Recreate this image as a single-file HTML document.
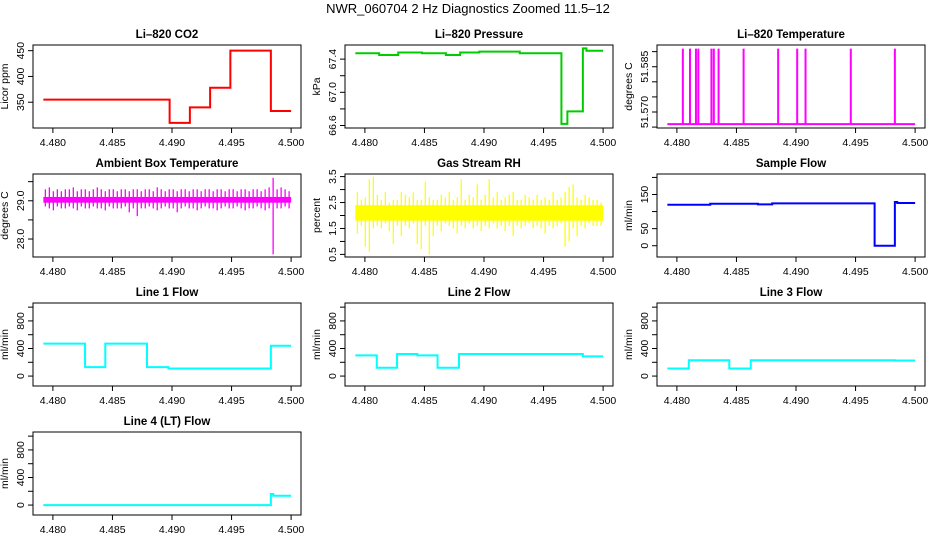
<!DOCTYPE html>
<html><head><meta charset="utf-8"><style>
html,body{margin:0;padding:0;background:#fff;}
svg{display:block;font-family:"Liberation Sans",Arial,sans-serif;}
</style></head><body>
<svg id="fig" width="936" height="540" viewBox="0 0 936 540">
<text x="468" y="13" text-anchor="middle" font-size="13">NWR_060704  2 Hz Diagnostics Zoomed 11.5–12</text>
</svg>
<script>
// ---- data ----
const xTicks = [4.480, 4.485, 4.490, 4.495, 4.500];
const xTickLabels = ["4.480", "4.485", "4.490", "4.495", "4.500"];

const co2Times = [4.4792, 4.4898, 4.4915, 4.4932, 4.4949, 4.4983, 4.5000];
const co2Values = [355, 310, 340, 378, 450, 333, 333];

const pressTimes = [4.4792, 4.4812, 4.4828, 4.4848, 4.4868, 4.4880, 4.4896, 4.4930, 4.4965, 4.4970, 4.4983, 4.4986, 4.5000];
const pressValues = [67.47, 67.45, 67.48, 67.47, 67.45, 67.48, 67.49, 67.47, 66.62, 66.77, 67.53, 67.50, 67.50];

const tempSpikeTimes = [4.4805, 4.4811, 4.4816, 4.4818, 4.4829, 4.4831, 4.4835, 4.4856, 4.4885, 4.4901, 4.4908, 4.4946, 4.4983];
const tempBase = 51.566;
const tempSpikeTop = 51.591;

const ambLo = [28.85,28.8,28.75,28.85,28.8,28.8,28.85,28.8,28.75,28.85,28.8,28.8,28.85,28.8,28.8,28.75,28.85,28.8,28.8,28.8,28.85,28.7,28.8,28.6,28.8,28.8,28.85,28.8,28.75,28.8,28.85,28.8,28.8,28.7,28.8,28.85,28.8,28.8,28.75,28.8,28.85,28.8,28.8,28.75,28.8,28.85,28.8,28.8,28.85,28.8,28.75,28.8,28.8,28.85,28.8,28.75,28.8,27.6,28.8,28.8,28.85,28.8];
const ambHi = [29.3,29.35,29.25,29.3,29.25,29.3,29.3,29.35,29.25,29.3,29.3,29.25,29.3,29.35,29.3,29.25,29.3,29.3,29.25,29.3,29.3,29.25,29.3,29.3,29.25,29.3,29.3,29.25,29.35,29.3,29.25,29.3,29.3,29.25,29.3,29.3,29.25,29.3,29.3,29.25,29.3,29.3,29.25,29.3,29.3,29.25,29.3,29.3,29.25,29.3,29.3,29.25,29.3,29.3,29.25,29.3,29.35,29.6,29.3,29.35,29.3,29.25];

const rhLo = [1.3,1.6,0.8,0.6,1.5,1.6,1.5,1.7,1.4,0.9,1.6,1.2,1.6,1.5,1.7,0.9,0.7,1.6,0.5,1.2,1.6,1.4,1.7,1.6,1.5,1.3,1.6,1.5,1.7,1.5,1.6,1.4,1.6,1.5,1.7,1.5,1.6,1.4,1.6,1.2,1.6,1.5,1.6,1.7,1.5,1.6,1.5,1.3,1.6,1.5,1.6,1.7,0.8,1.0,1.5,1.2,1.6,1.5,1.7,1.6,1.6,1.6];
const rhHi = [2.9,2.6,2.7,3.4,3.5,2.8,2.6,2.9,2.5,2.6,2.6,2.9,2.8,2.7,2.9,2.6,2.6,3.3,2.7,2.6,2.6,2.8,2.7,2.9,2.6,2.7,3.4,2.6,2.8,2.7,3.2,2.6,2.8,3.4,2.7,2.9,2.6,2.7,2.8,2.9,2.6,2.6,2.8,2.7,2.6,2.8,2.6,2.7,2.6,2.9,2.6,2.7,2.9,3.1,3.2,2.7,2.6,2.8,2.7,2.6,2.6,2.5];

const sampleTimes = [4.4792, 4.4828, 4.4868, 4.4880, 4.4966, 4.4983, 4.4985, 4.5000];
const sampleValues = [120, 123, 121, 124, 0, 128, 125, 125];

const line1Times = [4.4792, 4.4827, 4.4844, 4.4879, 4.4897, 4.4983, 4.5000];
const line1Values = [470, 130, 470, 130, 110, 440, 440];
const line2Times = [4.4792, 4.4810, 4.4827, 4.4844, 4.4861, 4.4879, 4.4983, 4.5000];
const line2Values = [300, 120, 320, 300, 120, 320, 285, 285];
const line3Times = [4.4792, 4.4810, 4.4844, 4.4862, 4.4983, 4.5000];
const line3Values = [110, 230, 110, 230, 225, 225];
const line4Times = [4.4792, 4.4983, 4.4985, 4.5000];
const line4Values = [0, 160, 135, 135];

// ---- layout ----
const NS = "http://www.w3.org/2000/svg";
const svg = document.getElementById("fig");
const XMIN = 4.47833, XMAX = 4.50083;
function mk(tag, attrs, parent) {
  const e = document.createElementNS(NS, tag);
  for (const k in attrs) e.setAttribute(k, attrs[k]);
  (parent || svg).appendChild(e);
  return e;
}
function panel(name, title, col, row, ylab, ymin, ymax, yTicks, yLabels) {
  const L = 33 + 312 * col, R = 301 + 312 * col, T = 45 + 129 * row, B = T + 83;
  const g = mk("g", {});
  
  
  const sx = v => L + (v - XMIN) / (XMAX - XMIN) * (R - L);
  const sy = v => B - (v - ymin) / (ymax - ymin) * (B - T);
  const t = mk("text", {x: (L + R) / 2, y: T - 7, "text-anchor": "middle", "font-size": "11.5", "font-weight": "bold"}, g);
  t.textContent = title;
  
  
  const box = mk("rect", {x: L, y: T, width: R - L, height: B - T, fill: "none", stroke: "#000", "stroke-width": 1}, g);
  
  
  // x axis
  const xa = mk("g", {}, g);
  
  
  xTicks.forEach((v, i) => {
    const x = sx(v);
    mk("line", {x1: x, x2: x, y1: B, y2: B + 5, stroke: "#000"}, xa);
    const tl = mk("text", {x: x, y: B + 18, "text-anchor": "middle", "font-size": "10.5"}, xa);
    tl.textContent = xTickLabels[i];
  });
  // y axis
  const ya = mk("g", {}, g);
  
  
  mk("line", {x1: L, x2: L, y1: sy(yTicks[0]), y2: sy(yTicks[yTicks.length - 1]), stroke: "#000"}, ya);
  yTicks.forEach((v, i) => {
    const y = sy(v);
    mk("line", {x1: L - 5, x2: L, y1: y, y2: y, stroke: "#000"}, ya);
    if (yLabels[i]) {
      const tl = mk("text", {x: L - 9, y: y, "text-anchor": "middle", "font-size": "10.5", transform: `rotate(-90 ${L - 9} ${y})`}, ya);
      tl.textContent = yLabels[i];
    }
  });
  const yl = mk("text", {x: L - 25, y: (T + B) / 2, "text-anchor": "middle", "font-size": "10.5", transform: `rotate(-90 ${L - 25} ${(T + B) / 2})`}, g);
  yl.textContent = ylab;
  
  
  return {g, sx, sy};
}
function steps(p, name, times, vals, color, w) {
  let d = "";
  for (let i = 0; i < times.length; i++) {
    const x = p.sx(times[i]), y = p.sy(vals[i]);
    if (i === 0) d += `M${x},${y}`;
    else d += `H${x}V${y}`;
  }
  const e = mk("path", {d, fill: "none", stroke: color, "stroke-width": w}, p.g);
  
  
}
function band(p, name, lo, hi, color) {
  const n = lo.length, t0 = 4.4792, t1 = 4.5000;
  const gg = mk("g", {}, p.g);
  
  
  for (let i = 0; i < n; i++) {
    const xa = p.sx(t0 + (t1 - t0) * i / n), xb = p.sx(t0 + (t1 - t0) * (i + 1) / n);
    const xm = (xa + xb) / 2;
    mk("line", {x1: xm, x2: xm, y1: p.sy(lo[i]), y2: p.sy(hi[i]), stroke: color, "stroke-width": 1.3}, gg);
  }
  // dense core
  const core = name === "ambient" ? [28.95, 29.1] : [1.8, 2.4];
  mk("rect", {x: p.sx(t0), y: p.sy(core[1]), width: p.sx(t1) - p.sx(t0), height: p.sy(core[0]) - p.sy(core[1]), fill: color}, gg);
}

// CO2
let p = panel("co2", "Li–820 CO2", 0, 0, "Licor ppm", 300, 461, [350, 400, 450], ["350", "400", "450"]);
steps(p, "co2", co2Times, co2Values, "#ff0000", 2);
// Pressure
p = panel("pressure", "Li–820 Pressure", 1, 0, "kPa", 66.57, 67.57, [66.6, 66.8, 67.0, 67.2, 67.4], ["66.6", "", "67.0", "", "67.4"]);
steps(p, "pressure", pressTimes, pressValues, "#00cc00", 2);
// Temperature
p = panel("temperature", "Li–820 Temperature", 2, 0, "degrees C", 51.5647, 51.5922, [51.565, 51.570, 51.575, 51.580, 51.585, 51.590], ["", "51.570", "", "", "51.585", ""]);
{
  let d = `M${p.sx(4.4792)},${p.sy(tempBase)}H${p.sx(4.5)}`;
  tempSpikeTimes.forEach(t => { d += `M${p.sx(t)},${p.sy(tempBase)}V${p.sy(tempSpikeTop)}`; });
  const e = mk("path", {d, fill: "none", stroke: "#ff00ff", "stroke-width": 2}, p.g);
  
  
}
// Ambient
p = panel("ambient", "Ambient Box Temperature", 0, 1, "degrees C", 27.53, 29.7, [28.0, 28.5, 29.0, 29.5], ["28.0", "", "29.0", ""]);
band(p, "ambient", ambLo, ambHi, "#ff00ff");
// RH
p = panel("rh", "Gas Stream RH", 1, 1, "percent", 0.4, 3.6, [0.5, 1.0, 1.5, 2.0, 2.5, 3.0, 3.5], ["0.5", "", "1.5", "", "2.5", "", "3.5"]);
band(p, "rh", rhLo, rhHi, "#ffff00");
// Sample flow
p = panel("sample-flow", "Sample Flow", 2, 1, "ml/min", -33, 210, [0, 50, 100, 150, 200], ["0", "50", "", "150", ""]);
steps(p, "sample-flow", sampleTimes, sampleValues, "#0000ff", 2);
// Line flows
const flowTicks = [0, 200, 400, 600, 800, 1000], flowLabels = ["0", "", "400", "", "800", ""];
p = panel("line1-flow", "Line 1 Flow", 0, 2, "ml/min", -144, 1060, flowTicks, flowLabels);
steps(p, "line1-flow", line1Times, line1Values, "#00ffff", 2);
p = panel("line2-flow", "Line 2 Flow", 1, 2, "ml/min", -144, 1060, flowTicks, flowLabels);
steps(p, "line2-flow", line2Times, line2Values, "#00ffff", 2);
p = panel("line3-flow", "Line 3 Flow", 2, 2, "ml/min", -144, 1060, flowTicks, flowLabels);
steps(p, "line3-flow", line3Times, line3Values, "#00ffff", 2);
p = panel("line4-flow", "Line 4 (LT) Flow", 0, 3, "ml/min", -144, 1060, flowTicks, flowLabels);
steps(p, "line4-flow", line4Times, line4Values, "#00ffff", 2);
</script>
</body></html>
